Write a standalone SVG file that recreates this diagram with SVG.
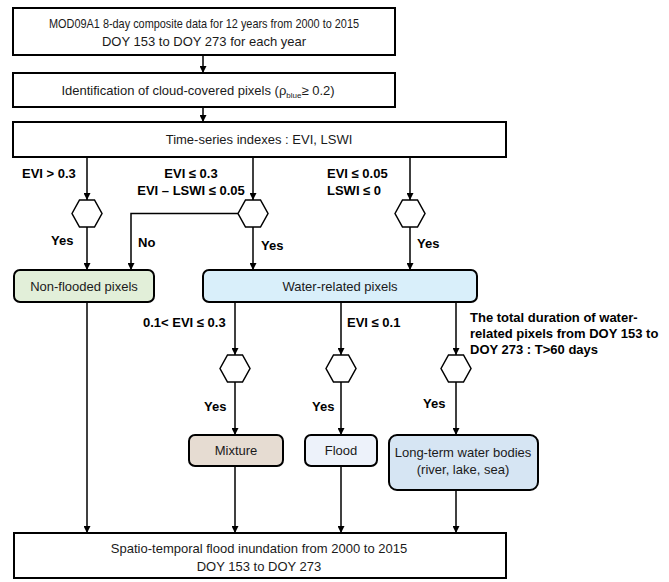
<svg xmlns="http://www.w3.org/2000/svg" width="669" height="582" viewBox="0 0 669 582">
<defs>
<marker id="ah" viewBox="0 0 10 10" refX="10" refY="5" markerWidth="8" markerHeight="7" orient="auto" markerUnits="userSpaceOnUse">
<path d="M0,0 L10,5 L0,10 z" fill="#000"/>
</marker>
<style>
.box{fill:#fff;stroke:#000;stroke-width:2}
.rbox{stroke:#000;stroke-width:2}
.hex{fill:#fff;stroke:#000;stroke-width:1.5}
.t{font-family:"Liberation Sans",Arial,sans-serif;font-size:13px;fill:#1a1a1a;text-anchor:middle}
.b{font-family:"Liberation Sans",Arial,sans-serif;font-size:13px;font-weight:bold;fill:#000}
.c{fill:none;stroke:#000;stroke-width:1.5;marker-end:url(#ah)}
</style>
</defs>
<rect width="669" height="582" fill="#fff"/>

<g id="connectors">
<path class="c" d="M203,55 V73"/>
<path class="c" d="M203,107 V122"/>
<path class="c" d="M87,157 V200"/>
<path class="c" d="M253,157 V200"/>
<path class="c" d="M410,157 V200"/>
<path class="c" d="M87,227 V270"/>
<path class="c" d="M238,213.5 H131 V270"/>
<path class="c" d="M253,227 V270"/>
<path class="c" d="M410,227 V270"/>
<path class="c" d="M235,302 V355"/>
<path class="c" d="M341,302 V355"/>
<path class="c" d="M456,302 V355"/>
<path class="c" d="M235,382 V435"/>
<path class="c" d="M341,382 V435"/>
<path class="c" d="M456,382 V435"/>
<path class="c" d="M87,302 V533"/>
<path class="c" d="M235,466 V533"/>
<path class="c" d="M341,466 V533"/>
<path class="c" d="M456,490 V533"/>
</g>

<g id="labels">
<text class="b" x="22" y="178">EVI &gt; 0.3</text>
<text class="b" x="191" y="178" text-anchor="middle">EVI ≤ 0.3</text>
<text class="b" x="191" y="195" text-anchor="middle">EVI – LSWI ≤ 0.05</text>
<text class="b" x="327" y="178">EVI ≤ 0.05</text>
<text class="b" x="327" y="195">LSWI ≤ 0</text>
<text class="b" x="51" y="245">Yes</text>
<text class="b" x="138" y="247">No</text>
<text class="b" x="261" y="250">Yes</text>
<text class="b" x="417" y="248">Yes</text>
<text class="b" x="143" y="327">0.1&lt; EVI ≤ 0.3</text>
<text class="b" x="347" y="327">EVI ≤ 0.1</text>
<text class="b" x="470" y="322">The total duration of water-</text>
<text class="b" x="470" y="338">related pixels from DOY 153 to</text>
<text class="b" x="470" y="354">DOY 273 : T&gt;60 days</text>
<text class="b" x="204" y="411">Yes</text>
<text class="b" x="312" y="411">Yes</text>
<text class="b" x="423" y="408">Yes</text>
</g>

<g id="n-input">
<rect class="box" x="13" y="8" width="382" height="47"/>
<text class="t" x="204" y="28" font-size="12" textLength="310" lengthAdjust="spacingAndGlyphs">MOD09A1 8-day composite data for 12 years from 2000 to 2015</text>
<text class="t" x="204" y="46" font-size="12.5">DOY 153 to DOY 273 for each year</text>
</g>
<g id="n-cloud">
<rect class="box" x="13" y="73" width="382" height="34"/>
<text class="t" x="198" y="95" font-size="12">Identification of cloud-covered pixels (ρ<tspan font-size="8" dy="3">blue</tspan><tspan dy="-3">≥ 0.2)</tspan></text>
</g>
<g id="n-index">
<rect class="box" x="13" y="122" width="493" height="35"/>
<text class="t" x="259" y="144">Time-series indexes : EVI, LSWI</text>
</g>
<g id="hex1"><polygon class="hex" points="72,213.5 79.5,200 94.5,200 102,213.5 94.5,227 79.5,227"/></g>
<g id="hex2"><polygon class="hex" points="238,213.5 245.5,200 260.5,200 268,213.5 260.5,227 245.5,227"/></g>
<g id="hex3"><polygon class="hex" points="395,213.5 402.5,200 417.5,200 425,213.5 417.5,227 402.5,227"/></g>
<g id="n-nonflooded">
<rect class="rbox" x="14" y="270" width="140" height="32" rx="6" fill="#e2efd9"/>
<text class="t" x="84" y="291">Non-flooded pixels</text>
</g>
<g id="n-water">
<rect class="rbox" x="203" y="270" width="274" height="32" rx="6" fill="#d9effa"/>
<text class="t" x="340" y="291">Water-related pixels</text>
</g>
<g id="hex4"><polygon class="hex" points="220,368.5 227.5,355 242.5,355 250,368.5 242.5,382 227.5,382"/></g>
<g id="hex5"><polygon class="hex" points="326,368.5 333.5,355 348.5,355 356,368.5 348.5,382 333.5,382"/></g>
<g id="hex6"><polygon class="hex" points="441,368.5 448.5,355 463.5,355 471,368.5 463.5,382 448.5,382"/></g>
<g id="n-mixture">
<rect class="rbox" x="189" y="435" width="94" height="31" rx="6" fill="#e6dcd2"/>
<text class="t" x="236" y="455">Mixture</text>
</g>
<g id="n-flood">
<rect class="rbox" x="305" y="435" width="72" height="31" rx="6" fill="#edf2fa"/>
<text class="t" x="341" y="455">Flood</text>
</g>
<g id="n-longterm">
<rect class="rbox" x="389" y="435" width="149" height="55" rx="8" fill="#d6e5f3"/>
<text class="t" x="463" y="457">Long-term water bodies</text>
<text class="t" x="463" y="474">(river, lake, sea)</text>
</g>
<g id="n-output">
<rect class="box" x="14" y="533" width="492" height="45"/>
<text class="t" x="259" y="553" font-size="14">Spatio-temporal flood inundation from 2000 to 2015</text>
<text class="t" x="259" y="571">DOY 153 to DOY 273</text>
</g>
</svg>
